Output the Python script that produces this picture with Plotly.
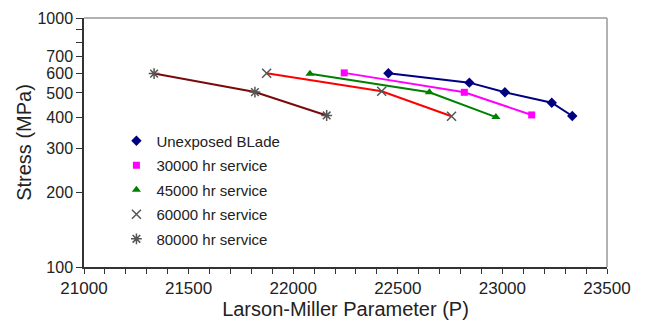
import plotly.graph_objects as go

# Data (Larson-Miller parameter vs stress)
names = ["Unexposed BLade", "30000 hr service", "45000 hr service",
         "60000 hr service", "80000 hr service"]
p_unexposed = [22455, 22842, 23012, 23236, 23334]
s_unexposed = [600, 550, 503, 457, 404]
p_30000 = [22244, 22818, 23140]
s_30000 = [602, 503, 408]
p_45000 = [22080, 22651, 22969]
s_45000 = [597, 503, 400]
p_60000 = [21873, 22423, 22757]
s_60000 = [600, 508, 403]
p_80000 = [21335, 21817, 22160]
s_80000 = [598, 504, 406]

x_tickvals = [21000, 21500, 22000, 22500, 23000, 23500]
y_tickvals = [100, 200, 300, 400, 500, 600, 700, 800, 900, 1000]
y_ticktext = ["100", "200", "300", "400", "500", "600", "700", "", "", "1000"]

series = [
    (names[0], p_unexposed, s_unexposed, "#000080", "#000080", "diamond", 8),
    (names[1], p_30000, s_30000, "#ff00ff", "#ff00ff", "square", 7),
    (names[2], p_45000, s_45000, "#008000", "#008000", "triangle-up", 8),
    (names[3], p_60000, s_60000, "#ff0000", "#555555", "x-thin", 9),
    (names[4], p_80000, s_80000, "#7a0a0a", "#555555", "asterisk-open", 9),
]

fig = go.Figure()
for name, px, sy, lc, mc, sym, sz in series:
    fig.add_trace(go.Scatter(x=px, y=sy, mode="lines", showlegend=False,
                             line=dict(color=lc, width=2), hoverinfo="skip"))
for i, (name, px, sy, lc, mc, sym, sz) in enumerate(series):
    thin = sym in ("x-thin", "asterisk-open")
    fig.add_trace(go.Scatter(
        x=px, y=sy, mode="markers", name=name, legendgroup=f"g{i}",
        marker=dict(symbol=sym, size=sz, color=mc,
                    line=dict(color=mc, width=1.5 if thin else 0))))

font_family = "Liberation Sans, Arial, sans-serif"
fig.update_layout(
    width=647, height=322,
    margin=dict(l=84, r=40, t=18, b=55),
    paper_bgcolor="white", plot_bgcolor="white",
    font=dict(family=font_family, color="#222222", size=16),
    showlegend=True,
    legend=dict(x=0.062, y=0.572, xanchor="left", yanchor="top",
                font=dict(size=15, color="#222222"), bgcolor="rgba(0,0,0,0)",
                traceorder="grouped", tracegroupgap=2, itemwidth=30),
    xaxis=dict(range=[21000, 23500], tickmode="array", automargin=False,
               tickvals=x_tickvals, ticktext=[str(v) for v in x_tickvals],
               ticks="outside", ticklen=5, tickcolor="#333333",
               showline=True, linecolor="#333333", linewidth=1.5,
               showgrid=False, zeroline=False,
               minor=dict(dtick=100, ticks="outside", ticklen=5, tickcolor="#333333"),
               title=dict(text="Larson-Miller Parameter (P)", font=dict(size=20), standoff=4),
               tickfont=dict(size=17)),
    yaxis=dict(type="log", range=[2, 3], tickmode="array", automargin=False,
               tickvals=y_tickvals, ticktext=y_ticktext,
               ticks="outside", ticklen=6, tickcolor="#333333",
               showline=True, linecolor="#333333", linewidth=1.5,
               showgrid=False, zeroline=False,
               title=dict(text="Stress (MPa)", font=dict(size=20), standoff=0),
               tickfont=dict(size=16)),
    shapes=[
        dict(type="line", xref="paper", yref="paper", x0=0, x1=1, y0=1, y1=1,
             line=dict(color="#999999", width=1.5)),
        dict(type="line", xref="paper", yref="paper", x0=1, x1=1, y0=0, y1=1,
             line=dict(color="#999999", width=1.5)),
    ],
)

fig.write_html("out.html")
